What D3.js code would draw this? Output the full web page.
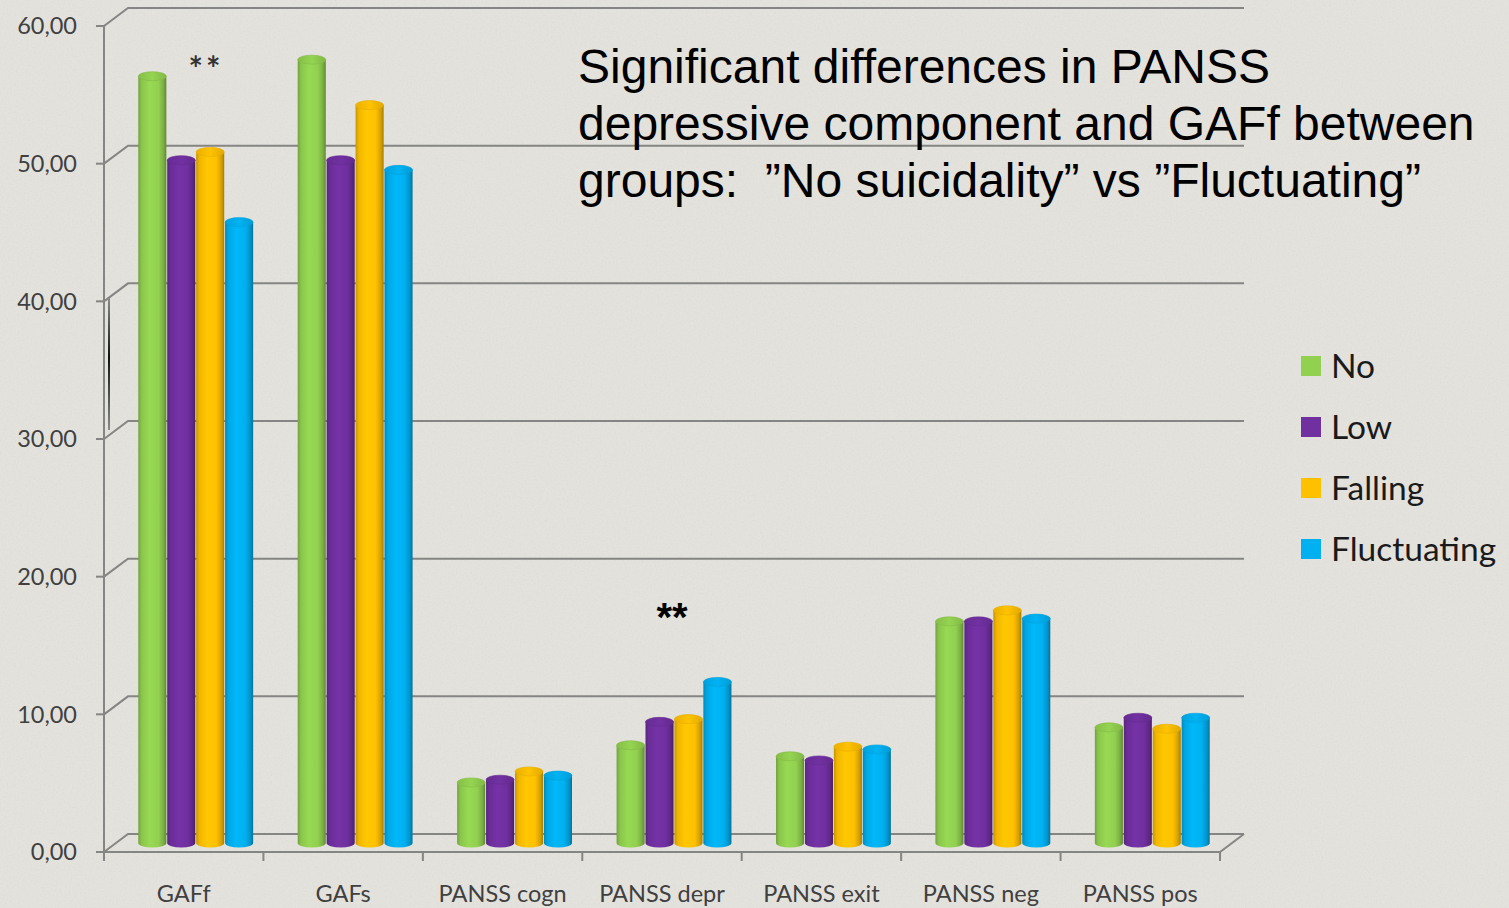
<!DOCTYPE html>
<html>
<head>
<meta charset="utf-8">
<script src="https://cdn.jsdelivr.net/npm/d3@7"></script>
<style>
  html, body { margin: 0; padding: 0; background: #e4e2dd; }
  svg { display: block; }
</style>
</head>
<body>
<svg id="chart" width="1509" height="908"></svg>
<script>
// Mean scores per suicidality trajectory group
const categories = ["GAFf", "GAFs", "PANSS cogn", "PANSS depr", "PANSS exit", "PANSS neg", "PANSS pos"];
const groups = ["No", "Low", "Falling", "Fluctuating"];
const noValues          = [55.7, 56.9, 4.4, 7.1, 6.3, 16.1, 8.4];
const lowValues         = [49.6, 49.6, 4.6, 8.8, 6.0, 16.1, 9.1];
const fallingValues     = [50.2, 53.6, 5.2, 9.0, 7.0, 16.9, 8.3];
const fluctuatingValues = [45.1, 48.9, 4.9, 11.7, 6.8, 16.3, 9.1];
const yTicks = [0, 10, 20, 30, 40, 50, 60];
const groupColors = ["#92D050", "#7030A0", "#FFC000", "#00B0F0"];

const seriesValues = [noValues, lowValues, fallingValues, fluctuatingValues];

const svg = d3.select("#chart");
const W = 1509, H = 908;
const labelFont = "Lato, 'Open Sans', sans-serif";
const noteFont = "'Liberation Sans', Arial, sans-serif";

// background with light paper grain
const defs = svg.append("defs");
const grain = defs.append("filter").attr("id", "grain").attr("x", 0).attr("y", 0).attr("width", "100%").attr("height", "100%");
grain.append("feTurbulence").attr("type", "fractalNoise").attr("baseFrequency", 0.55).attr("numOctaves", 3).attr("seed", 4).attr("result", "n");
grain.append("feColorMatrix").attr("in", "n").attr("type", "matrix")
  .attr("values", "0 0 0 0 0.55  0 0 0 0 0.54  0 0 0 0 0.52  0.9 0 0 0 -0.38");
svg.append("rect").attr("width", W).attr("height", H).attr("fill", "#e4e2dd");
svg.append("rect").attr("width", W).attr("height", H).attr("filter", "url(#grain)").attr("opacity", 0.35);

// 3D box geometry: front plane and depth offset
const depthX = 24, depthY = -18;
const y = d3.scaleLinear().domain([0, 60]).range([852, 26]);
const x0 = d3.scaleBand().domain(categories).range([104, 1220]);
const x1 = d3.scaleBand().domain(groups).range([0, x0.bandwidth()]).paddingInner(0.03).paddingOuter(0.77);

const gridColor = "#858583";
const grid = svg.append("g").attr("fill", "none").attr("stroke", gridColor).attr("stroke-width", 2);

// back-wall gridlines with their slanted connectors to the front axis
yTicks.forEach(t => {
  const fy = y(t), by = y(t) + depthY;
  grid.append("path").attr("d", `M${104},${fy}L${104 + depthX},${by}L${1220 + depthX},${by}`);
});

// floor front edge and right slant
grid.append("path").attr("d", `M104,${y(0)}L1220,${y(0)}L${1220 + depthX},${y(0) + depthY}`);

// front vertical axis
grid.append("line").attr("x1", 104).attr("x2", 104).attr("y1", y(60)).attr("y2", y(0));

// y ticks
yTicks.forEach(t => {
  grid.append("line").attr("x1", 96).attr("x2", 104).attr("y1", y(t)).attr("y2", y(t));
});
// category ticks
const catEdges = categories.map(c => x0(c)).concat([1220]);
catEdges.forEach(xv => {
  grid.append("line").attr("x1", xv).attr("x2", xv).attr("y1", y(0)).attr("y2", y(0) + 9);
});

// thin dark stroke near the axis
const mark = defs.append("linearGradient").attr("id", "markGrad").attr("x1", 0).attr("y1", 0).attr("x2", 0).attr("y2", 1);
mark.append("stop").attr("offset", "0%").attr("stop-color", "#8a8a88");
mark.append("stop").attr("offset", "45%").attr("stop-color", "#111");
mark.append("stop").attr("offset", "100%").attr("stop-color", "#8a8a88");
svg.append("rect").attr("x", 108).attr("y", 298).attr("width", 2).attr("height", 132).attr("fill", "url(#markGrad)");

// y tick labels with decimal comma
const fmt = d3.formatLocale({ decimal: ",", thousands: ".", grouping: [3], currency: ["", ""] }).format(".2f");
svg.append("g").selectAll("text").data(yTicks).join("text")
  .attr("x", 77).attr("y", d => y(d)).attr("dy", "0.35em")
  .attr("text-anchor", "end")
  .attr("font-family", labelFont).attr("font-size", 23.5)
  .attr("fill", "#404040")
  .text(d => fmt(d));

// category labels
svg.append("g").selectAll("text").data(categories).join("text")
  .attr("x", d => x0(d) + x0.bandwidth() / 2).attr("y", 894).attr("dy", "0.35em")
  .attr("text-anchor", "middle")
  .attr("font-family", labelFont).attr("font-size", 23.5)
  .attr("fill", "#404040")
  .text(d => d);

// cylinder shading gradients
function shade(c, k) { return d3.color(c).darker(k).formatHex(); }
function tint(c, k) { return d3.color(c).brighter(k).formatHex(); }
groupColors.forEach((c, i) => {
  const g = defs.append("linearGradient").attr("id", "body" + i).attr("x1", 0).attr("x2", 1).attr("y1", 0).attr("y2", 0);
  g.append("stop").attr("offset", "0%").attr("stop-color", shade(c, 0.7));
  g.append("stop").attr("offset", "12%").attr("stop-color", shade(c, 0.15));
  g.append("stop").attr("offset", "40%").attr("stop-color", tint(c, 0.12));
  g.append("stop").attr("offset", "72%").attr("stop-color", c);
  g.append("stop").attr("offset", "90%").attr("stop-color", shade(c, 0.5));
  g.append("stop").attr("offset", "100%").attr("stop-color", shade(c, 1.2));
  const t = defs.append("linearGradient").attr("id", "top" + i).attr("x1", 0).attr("x2", 1).attr("y1", 0).attr("y2", 0);
  t.append("stop").attr("offset", "0%").attr("stop-color", shade(c, 0.25));
  t.append("stop").attr("offset", "50%").attr("stop-color", tint(c, 0.05));
  t.append("stop").attr("offset", "100%").attr("stop-color", shade(c, 0.35));
});

// bars, drawn as cylinders at mid depth
const midX = depthX / 2, midY = depthY / 2;
const ry = 4.5;
const barData = [];
categories.forEach((c, ci) => {
  groups.forEach((g, gi) => {
    barData.push({ cat: c, grp: g, gi, value: seriesValues[gi][ci] });
  });
});
const bars = svg.append("g").selectAll("g").data(barData).join("g");
bars.each(function (d) {
  const sel = d3.select(this);
  const xl = x0(d.cat) + x1(d.grp) + midX;
  const w = x1.bandwidth();
  const rx = w / 2;
  const yt = y(d.value) + midY;
  const yb = y(0) + midY;
  sel.append("path")
    .attr("d", `M${xl},${yt}L${xl},${yb}A${rx},${ry} 0 0 0 ${xl + w},${yb}L${xl + w},${yt}Z`)
    .attr("fill", `url(#body${d.gi})`);
  sel.append("ellipse")
    .attr("cx", xl + rx).attr("cy", yt).attr("rx", rx).attr("ry", ry)
    .attr("fill", `url(#top${d.gi})`)
    .attr("stroke", shade(groupColors[d.gi], 0.3)).attr("stroke-width", 0.6);
});

// significance markers
svg.append("text").attr("x", 206).attr("y", 81).attr("text-anchor", "middle")
  .attr("font-family", labelFont).attr("font-size", 34).attr("font-weight", "bold").attr("fill", "#333")
  .attr("letter-spacing", 3)
  .text("**");
svg.append("text").attr("x", 672).attr("y", 631).attr("text-anchor", "middle")
  .attr("font-family", noteFont).attr("font-size", 40).attr("font-weight", "bold").attr("fill", "#000")
  .text("**");

// legend
const legend = svg.append("g").selectAll("g").data(groups).join("g")
  .attr("transform", (d, i) => `translate(1301, ${366 + i * 61})`);
legend.append("rect").attr("x", 0).attr("y", -10).attr("width", 20).attr("height", 20)
  .attr("fill", (d, i) => groupColors[i]);
legend.append("text").attr("x", 30).attr("y", 0).attr("dy", "0.35em")
  .attr("font-family", labelFont).attr("font-size", 33.5).attr("fill", "#1a1a1a")
  .text(d => d);

// annotation
const note = [
  "Significant differences in PANSS",
  "depressive component and GAFf between",
  "groups:  \u201DNo suicidality\u201D vs \u201DFluctuating\u201D"
];
svg.append("g").selectAll("text").data(note).join("text")
  .attr("x", 578).attr("y", (d, i) => 83 + i * 57)
  .attr("font-family", noteFont).attr("font-size", 48).attr("fill", "#000")
  .attr("xml:space", "preserve")
  .style("white-space", "pre")
  .text(d => d);
</script>
</body>
</html>
